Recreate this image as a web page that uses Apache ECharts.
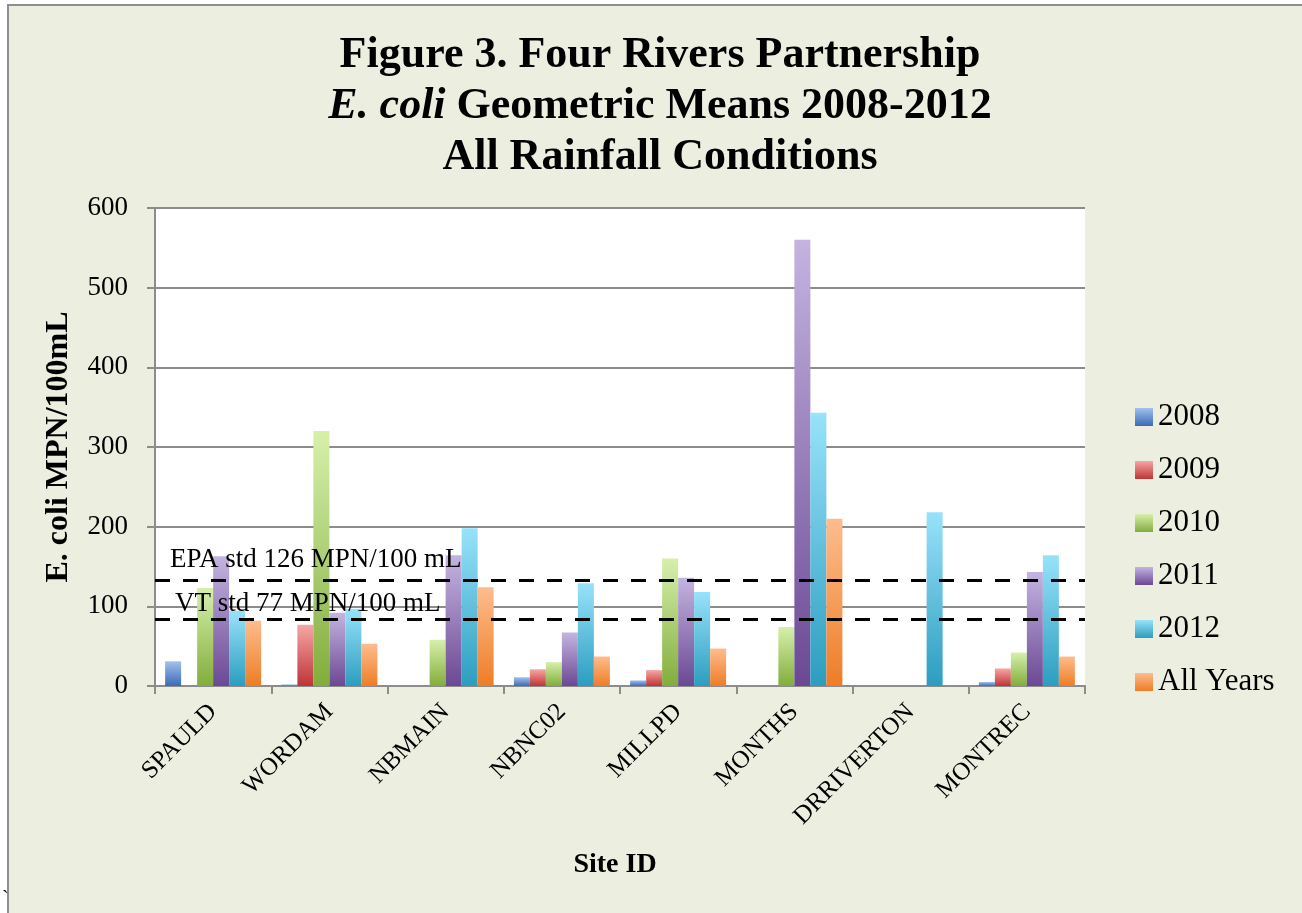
<!DOCTYPE html>
<html>
<head>
<meta charset="utf-8">
<script src="https://cdn.jsdelivr.net/npm/echarts@6/dist/echarts.min.js"></script>
<style>
  html, body { margin: 0; padding: 0; background: #ffffff; }
  #bg { position: absolute; left: 7px; top: 4px; width: 1295px; height: 909px; background: #ECEFE0;
        border-left: 2px solid #8f8f8f; border-top: 2px solid #8f8f8f; box-sizing: border-box; }
  #chart { position: absolute; left: 0; top: 0; width: 1302px; height: 913px; }
</style>
</head>
<body>
<div id="bg"></div>
<div id="chart"></div>
<script>
const sites = ['SPAULD', 'WORDAM', 'NBMAIN', 'NBNC02', 'MILLPD', 'MONTHS', 'DRRIVERTON', 'MONTREC'];
const seriesNames = ['2008', '2009', '2010', '2011', '2012', 'All Years'];
const v2008 = [31, 2, 0, 11, 7, 0, 0, 5];
const v2009 = [0, 77, 0, 21, 20, 0, 0, 22];
const v2010 = [123, 320, 58, 30, 160, 74, 0, 42];
const v2011 = [163, 92, 164, 67, 136, 560, 0, 143];
const v2012 = [94, 97, 198, 129, 118, 343, 218, 164];
const vAll = [82, 53, 124, 37, 47, 210, 0, 37];
const yTicks = [0, 100, 200, 300, 400, 500, 600];
const stdValues = [133, 84];
const stdLabels = ['EPA std 126 MPN/100 mL', 'VT std 77 MPN/100 mL'];

const values = [v2008, v2009, v2010, v2011, v2012, vAll];
const gradients = [
  ['#A3C0EE', '#3A6BB4'],
  ['#F6A7A5', '#BE3436'],
  ['#D6F0AB', '#82AD3C'],
  ['#C4B4E0', '#6B4894'],
  ['#98E2FA', '#2C9DBF'],
  ['#FEBC8E', '#EE7D26']
];

const serif = '"Liberation Serif", "DejaVu Serif", serif';

const series = seriesNames.map((name, i) => {
  const s = {
    name: name,
    type: 'bar',
    data: values[i],
    barWidth: 16,
    barGap: '0%',
    itemStyle: {
      color: {
        type: 'linear', x: 0, y: 0, x2: 0, y2: 1,
        colorStops: [
          { offset: 0, color: gradients[i][0] },
          { offset: 1, color: gradients[i][1] }
        ]
      }
    }
  };
  if (i === seriesNames.length - 1) {
    s.markLine = {
      silent: true,
      symbol: 'none',
      z: 10,
      lineStyle: { color: '#000', width: 3, type: [15, 13] },
      data: stdValues.map((v, k) => ({
        yAxis: v,
        label: {
          show: true,
          position: 'insideStartTop',
          formatter: stdLabels[k],
          fontFamily: serif,
          fontSize: 27,
          color: '#000',
          distance: k === 0 ? [15, 7] : [20, 2]
        }
      }))
    };
  }
  return s;
});

const chart = echarts.init(document.getElementById('chart'));
chart.setOption({
  backgroundColor: 'transparent',
  animation: false,
  title: {
    left: 655,
    top: 25,
    textAlign: 'center',
    text: '{b|Figure 3. Four Rivers Partnership}\n{i|E. coli}{b| Geometric Means 2008-2012}\n{b|All Rainfall Conditions}',
    textStyle: {
      rich: {
        b: { fontFamily: serif, fontSize: 44, fontWeight: 'bold', color: '#000', lineHeight: 51 },
        i: { fontFamily: serif, fontSize: 44, fontWeight: 'bold', fontStyle: 'italic', color: '#000', lineHeight: 51 }
      }
    }
  },
  legend: {
    orient: 'vertical',
    left: 1130,
    top: 396,
    icon: 'rect',
    itemWidth: 18,
    itemHeight: 18,
    itemGap: 21,
    itemTextGap: 9,
    data: seriesNames,
    textStyle: { fontFamily: serif, fontSize: 31, color: '#000', lineHeight: 32 }
  },
  grid: {
    left: 155, top: 208, width: 930, height: 478,
    show: true, backgroundColor: '#ffffff', borderWidth: 0
  },
  xAxis: {
    type: 'category',
    data: sites,
    name: 'Site ID',
    nameLocation: 'middle',
    nameGap: 165,
    nameTextStyle: { fontFamily: serif, fontSize: 28, fontWeight: 'bold', color: '#000', padding: [0, 10, 0, 0] },
    axisLine: { lineStyle: { color: '#8c8c8c', width: 2 } },
    axisTick: { show: true, length: 8, lineStyle: { color: '#8c8c8c', width: 2 } },
    axisLabel: { rotate: 45, margin: 22, fontFamily: serif, fontSize: 25, color: '#000', interval: 0 }
  },
  yAxis: {
    type: 'value',
    min: yTicks[0],
    max: yTicks[yTicks.length - 1],
    interval: yTicks[1] - yTicks[0],
    name: 'E. coli MPN/100mL',
    nameLocation: 'middle',
    nameRotate: 90,
    nameGap: 80,
    nameTextStyle: { fontFamily: serif, fontSize: 32, fontWeight: 'bold', color: '#000' },
    axisLine: { show: true, lineStyle: { color: '#8c8c8c', width: 2 } },
    axisTick: { show: true, length: 8, lineStyle: { color: '#8c8c8c', width: 2 } },
    axisLabel: { margin: 27, fontFamily: serif, fontSize: 27, color: '#000' },
    splitLine: { show: true, lineStyle: { color: '#8c8c8c', width: 2 } }
  },
  graphic: [
    { type: 'text', left: 2, top: 890, style: { text: '`', fontSize: 20, fill: '#000', fontFamily: serif } }
  ],
  series: series
});
</script>
</body>
</html>
